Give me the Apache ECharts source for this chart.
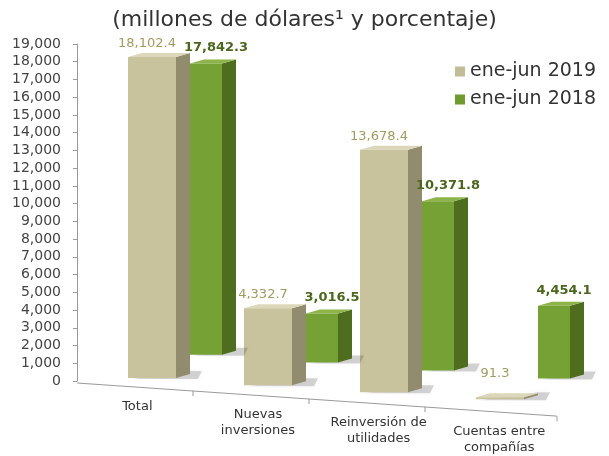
<!DOCTYPE html>
<html>
<head>
<meta charset="utf-8">
<script src="https://cdn.jsdelivr.net/npm/echarts@6/dist/echarts.min.js"></script>
<style>
  html, body { margin: 0; padding: 0; background: #fff; }
  #chart { width: 609px; height: 456px; }
</style>
</head>
<body>
<div id="chart"></div>
<script>
// datos
const categories = ['Total', 'Nuevas\ninversiones', 'Reinversión de\nutilidades', 'Cuentas entre\ncompañías'];
const v2019 = [18102.4, 4332.7, 13678.4, 91.3];
const v2018 = [17842.3, 3016.5, 10371.8, 4454.1];
const seriesNames = ['ene-jun 2019', 'ene-jun 2018'];
const yMin = 0, yMax = 19000, yStep = 1000;

const FONT = 'DejaVu Sans';
const fmt = v => v.toLocaleString('en-US', { minimumFractionDigits: 1, maximumFractionDigits: 1 });

// piso inclinado (perspectiva)
const floorSlope = 0.069;
const depth = 14, lift = 4;

const colors = {
  a: { front: '#c9c39d', side: '#928c6f', top: '#dcd7ba', label: '#a19b63' },
  b: { front: '#76a134', side: '#4e6d1f', top: '#8cb449', label: '#4b661f' }
};

function box(x0, x1, base, top, c) {
  const S = depth, L = lift;
  return [
    { type: 'polygon', z2: 1, shape: { points: [[x0 + 4, base + 1], [x1 + S + 8, base + 1], [x1 + S + 12, base - L - 3], [x1 + S, base - L - 3]] },
      style: { fill: 'rgba(0,0,0,0.16)', shadowBlur: 6, shadowColor: 'rgba(0,0,0,0.25)' } },
    { type: 'polygon', z2: 2, shape: { points: [[x1, top], [x1 + S, top - L], [x1 + S, base - L], [x1, base]] }, style: { fill: c.side } },
    { type: 'polygon', z2: 2, shape: { points: [[x0, top], [x1, top], [x1 + S, top - L], [x0 + S, top - L]] }, style: { fill: c.top } },
    { type: 'rect', z2: 3, shape: { x: x0, y: top, width: x1 - x0, height: Math.max(base - top, 1) }, style: { fill: c.front } }
  ];
}

function render2019(params, api) {
  const i = api.value(0), v = api.value(1);
  const c = api.coord([i, 0])[0];
  const x0 = c - 7, x1 = c + 41;
  const shift = -3 + 0.061 * (c + 17 - 150);
  const base = api.coord([i, 0])[1] + shift;
  const top = Math.min(api.coord([i, v])[1] + shift, base - 2);
  const kids = box(x0, x1, base, top, colors.a);
  kids.push({ type: 'text', z2: 5, style: {
    text: fmt(v), x: (x0 + x1) / 2 - 5, y: top - 7 - (v < 500 ? 10 : 0),
    align: 'center', verticalAlign: 'bottom', font: '13px "' + FONT + '"', fill: colors.a.label } });
  return { type: 'group', children: kids };
}

function render2018(params, api) {
  const i = api.value(0), v = api.value(1);
  const c = api.coord([i, 0])[0];
  const x0 = c + 55, x1 = c + 87;
  const shift = 0.068 * (c + 71 - 210);
  const base = api.coord([i, 0])[1] + shift;
  const top = api.coord([i, v])[1] + shift;
  const kids = box(x0, x1, base, top, colors.b);
  kids.push({ type: 'text', z2: 5, style: {
    text: fmt(v), x: (x0 + x1) / 2 + 10, y: top - 9,
    align: 'center', verticalAlign: 'bottom', font: 'bold 13px "' + FONT + '"', fill: colors.b.label } });
  return { type: 'group', children: kids };
}

function renderFloor(params, api) {
  const i = api.value(0);
  const size = api.size([1, 0])[0];
  const c = api.coord([i, 0])[0];
  const y0 = api.coord([i, 0])[1] + 2;
  const gl = c - size / 2;
  const gr = c + size / 2 + (i === categories.length - 1 ? 16 : 0);
  const gy = x => y0 + floorSlope * (x - params.coordSys.x);
  const lx = c + 0.04 * (c - params.coordSys.x);
  const kids = [
    { type: 'line', shape: { x1: gl, y1: gy(gl), x2: gr, y2: gy(gr) }, style: { stroke: '#9a9a9a', lineWidth: 1 } },
    { type: 'line', shape: { x1: gr, y1: gy(gr), x2: gr, y2: gy(gr) + 5 }, style: { stroke: '#9a9a9a', lineWidth: 1 } },
    { type: 'text', style: { text: categories[i], x: lx, y: gy(lx) + 11, align: 'center', verticalAlign: 'top',
      font: '13px "' + FONT + '"', fill: '#333', lineHeight: 16 } }
  ];
  return { type: 'group', children: kids };
}

const chart = echarts.init(document.getElementById('chart'));
chart.setOption({
  backgroundColor: '#fff',
  animation: false,
  title: {
    text: '(millones de dólares¹ y porcentaje)',
    left: 'center', top: 4,
    textStyle: { fontFamily: FONT, fontSize: 22, fontWeight: 'normal', color: '#333' }
  },
  legend: {
    data: seriesNames,
    orient: 'vertical', right: 8, top: 57,
    icon: 'rect', itemWidth: 10, itemHeight: 10, itemGap: 9,
    textStyle: { fontFamily: FONT, fontSize: 19, color: '#333' }
  },
  grid: [
    { left: 77, right: 68, top: 44, bottom: 75 },
    { left: 77, right: 68, top: 45, bottom: 101 }
  ],
  xAxis: [
    { type: 'category', data: categories, gridIndex: 0, show: false },
    { type: 'category', data: categories, gridIndex: 1, show: false }
  ],
  yAxis: [
    {
      type: 'value', gridIndex: 0, min: yMin, max: yMax, interval: yStep,
      axisLine: { show: true, lineStyle: { color: '#9a9a9a' } },
      axisTick: { show: true, length: 4, lineStyle: { color: '#9a9a9a' } },
      splitLine: { show: false },
      axisLabel: { margin: 16, fontFamily: FONT, fontSize: 14, color: '#444',
        formatter: v => v.toLocaleString('en-US') }
    },
    { type: 'value', gridIndex: 1, min: yMin, max: yMax, interval: yStep, show: false, splitLine: { show: false } }
  ],
  series: [
    {
      name: 'floor', type: 'custom', xAxisIndex: 0, yAxisIndex: 0, silent: true, z: 1,
      renderItem: renderFloor, data: categories.map((c, i) => [i, 0])
    },
    {
      name: seriesNames[0], type: 'custom', xAxisIndex: 0, yAxisIndex: 0, z: 2,
      itemStyle: { color: '#c2bc98' },
      renderItem: render2019, data: v2019.map((v, i) => [i, v]), encode: { x: 0, y: 1 }
    },
    {
      name: seriesNames[1], type: 'custom', xAxisIndex: 1, yAxisIndex: 1, z: 3,
      itemStyle: { color: '#6f9a2e' },
      renderItem: render2018, data: v2018.map((v, i) => [i, v]), encode: { x: 0, y: 1 }
    }
  ]
});
</script>
</body>
</html>
